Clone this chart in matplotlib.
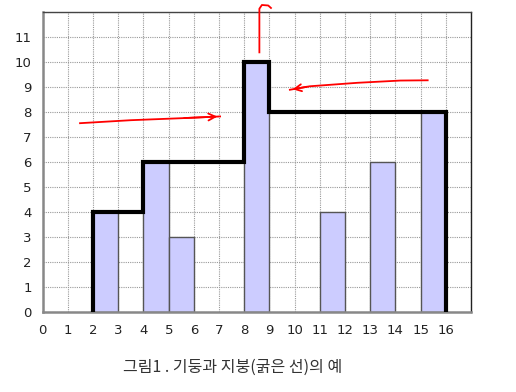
import matplotlib
matplotlib.use("Agg")
import matplotlib.pyplot as plt

plt.rcParams['font.family'] = ['Noto Sans CJK KR', 'DejaVu Sans']

# 기둥 데이터 (왼쪽 x, 높이)
bar_left = [2, 4, 5, 8, 11, 13, 15]
bar_height = [4, 6, 3, 10, 4, 6, 8]

# 지붕(굵은 선) 꼭짓점
roof_x = [2, 2, 4, 4, 8, 8, 9, 9, 16, 16]
roof_y = [0, 4, 4, 6, 6, 10, 10, 8, 8, 0]

x_ticks = list(range(0, 17))
y_ticks = list(range(0, 12))
caption = "그림1 . 기둥과 지붕(굵은 선)의 예"

# 빨간 손글씨 화살표
arrow_left_x = [1.48, 3.5, 5.5, 7.04]
arrow_left_y = [7.56, 7.68, 7.76, 7.83]
arrow_right_x = [15.28, 14.2, 12.5, 10.6, 9.81]
arrow_right_y = [9.28, 9.27, 9.18, 9.04, 8.9]
arrow_up_x = [8.6, 8.6, 8.6, 8.7, 8.95, 9.06]
arrow_up_y = [10.4, 11.5, 12.15, 12.3, 12.28, 12.18]

fig = plt.figure(figsize=(5.16, 3.92), dpi=100)
ax = fig.add_axes([0.0828, 0.2048, 0.83, 0.7634])

ax.bar(bar_left, bar_height, width=1, align='edge', color='#ccccff',
       edgecolor='#555555', linewidth=1, zorder=2)
ax.plot(roof_x, roof_y, color='black', linewidth=3, solid_joinstyle='miter',
        zorder=3)

ax.set_xlim(0, 17)
ax.set_ylim(0, 12)
ax.set_xticks(x_ticks)
ax.set_yticks(y_ticks)
ax.set_xticks([17], minor=True)
ax.set_yticks([12], minor=True)
ax.grid(which='both', linestyle=(0, (1, 1)), color='#999999', linewidth=0.8,
        zorder=0)
ax.set_axisbelow(True)
ax.tick_params(which='both', length=0, labelsize=9.5, colors='#222222')
ax.tick_params(axis='y', pad=8)
ax.tick_params(axis='x', pad=9)
for lab in ax.get_xticklabels() + ax.get_yticklabels():
    lab.set_family('DejaVu Sans')

ax.spines['left'].set_color('#888888')
ax.spines['left'].set_linewidth(1.8)
ax.spines['bottom'].set_color('#888888')
ax.spines['bottom'].set_linewidth(1.8)
ax.spines['top'].set_color('#444444')
ax.spines['right'].set_color('#222222')
ax.spines['top'].set_linewidth(1)
ax.spines['right'].set_linewidth(1)

# 빨간 화살표
ax.plot(arrow_up_x, arrow_up_y, color='red', linewidth=1.3, clip_on=False,
        zorder=5)
for xs, ys in [(arrow_left_x, arrow_left_y), (arrow_right_x, arrow_right_y)]:
    ax.plot(xs, ys, color='red', linewidth=1.3, zorder=5)
    ax.annotate('', xy=(xs[-1], ys[-1]), xytext=(xs[-2], ys[-2]),
                arrowprops=dict(arrowstyle='->,head_length=0.5,head_width=0.25',
                                color='red', lw=1.3), zorder=5)

fig.text(0.45, 0.064, caption, ha='center', va='center', fontsize=11.5,
         color='#333333')

fig.savefig('out.png', dpi=100)
